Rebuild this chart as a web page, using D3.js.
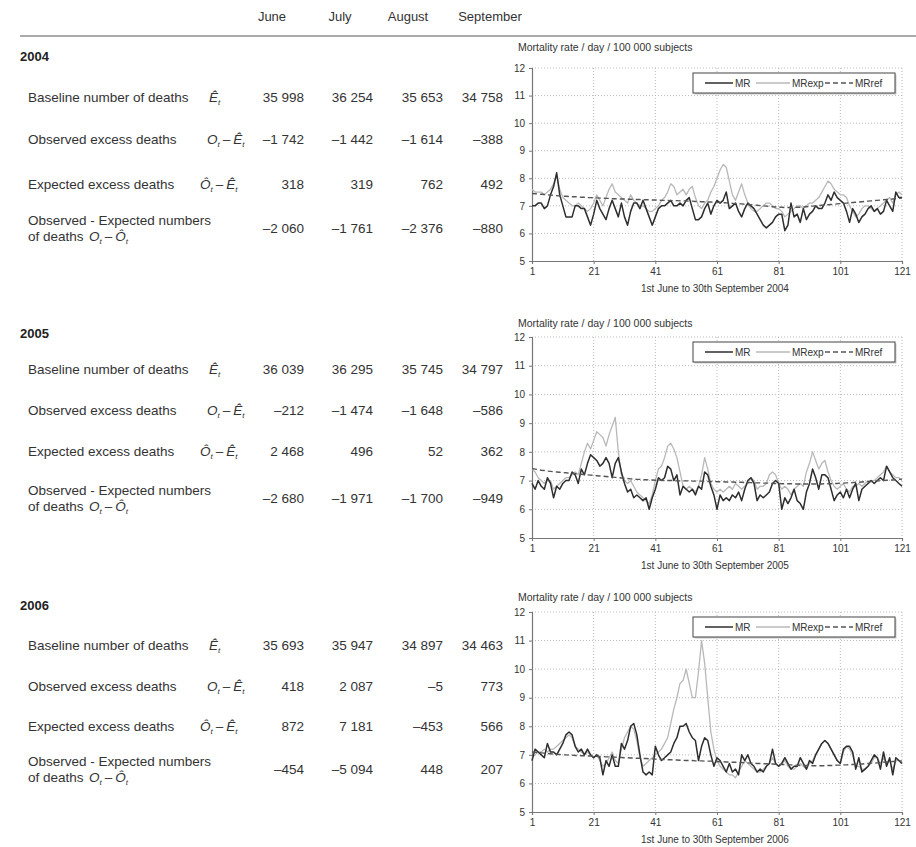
<!DOCTYPE html>
<html>
<head>
<meta charset="utf-8">
<script src="https://cdn.jsdelivr.net/npm/d3@7"></script>
<style>
  body { margin: 0; background: #fff; }
  svg { display: block; font-family: "Liberation Sans", Arial, sans-serif; }
</style>
</head>
<body>
<svg id="fig" width="916" height="847"></svg>
<script>
// table data
const months = ["June", "July", "August", "September"]
const years = ["2004", "2005", "2006"]

const baseline = [[35998, 36254, 35653, 34758], [36039, 36295, 35745, 34797], [35693, 35947, 34897, 34463]]
const observedExcess = [[-1742, -1442, -1614, -388], [-212, -1474, -1648, -586], [418, 2087, -5, 773]]
const expectedExcess = [[318, 319, 762, 492], [2468, 496, 52, 362], [872, 7181, -453, 566]]
const obsMinusExp = [[-2060, -1761, -2376, -880], [-2680, -1971, -1700, -949], [-454, -5094, 448, 207]]

const rowLabels = ["Baseline number of deaths", "Observed excess deaths", "Expected excess deaths", "Observed - Expected numbers"]
const rowSymbols = [["Ê"], ["O", "−", "Ê"], ["Ô", "−", "Ê"], ["O", "−", "Ô"]]

// daily mortality rates, day 1 = 1st June ... day 121 = 30th September
const dayTicks = [1, 21, 41, 61, 81, 101, 121]
const rateTicks = [5, 6, 7, 8, 9, 10, 11, 12]
const seriesNames = ["MR", "MRexp", "MRref"]

const mr2004 = [
  7.0, 7.0, 7.1, 7.1, 6.9, 7.0, 7.4, 7.7, 8.2, 7.4,
  7.0, 6.6, 6.6, 6.6, 7.0, 7.0, 6.9, 6.9, 6.6, 6.3,
  6.7, 7.2, 6.9, 6.7, 6.5, 6.9, 7.2, 6.9, 6.6, 7.1,
  6.6, 6.3, 6.8, 7.1, 7.1, 6.9, 7.2, 6.9, 6.6, 6.3,
  6.6, 6.9, 7.0, 7.0, 7.1, 7.2, 7.0, 7.0, 7.1, 7.0,
  7.2, 7.3, 6.9, 6.5, 6.5, 6.6, 6.9, 7.1, 6.7, 7.0,
  7.2, 7.1, 7.2, 7.5, 6.9, 7.0, 7.1, 6.8, 6.6, 6.9,
  7.1, 7.0, 6.9, 6.7, 6.5, 6.3, 6.2, 6.3, 6.4, 6.6,
  6.7, 6.7, 6.1, 6.3, 7.1, 6.6, 6.7, 6.4, 6.9, 6.5,
  6.7, 6.8, 7.0, 6.9, 6.9, 7.1, 7.4, 7.2, 7.5, 7.3,
  7.2, 7.1, 6.8, 6.4, 6.9, 6.7, 6.4, 6.6, 6.7, 6.9,
  7.0, 6.8, 6.9, 6.7, 6.8, 7.2, 7.0, 6.8, 7.5, 7.3,
  7.3]
const mrexp2004 = [
  7.6, 7.5, 7.5, 7.5, 7.4, 7.5, 7.6, 7.8, 8.1, 7.6,
  7.3, 7.2, 7.1, 7.0, 7.0, 7.1, 7.0, 6.9, 6.8, 6.9,
  7.1, 7.4, 7.2, 7.0, 7.3, 7.6, 7.8, 7.5, 7.4, 7.3,
  7.2, 7.1, 7.4, 7.2, 7.1, 7.0, 7.0, 6.9, 6.8, 6.8,
  6.9, 7.0, 7.2, 7.3, 7.5, 7.8, 7.7, 7.4, 7.5, 7.6,
  7.4, 7.6, 7.7, 7.3, 7.0, 6.9, 7.1, 7.2, 7.5, 7.7,
  8.0, 8.3, 8.5, 8.4, 7.9, 7.4, 7.2, 7.5, 7.8, 7.4,
  7.1, 6.9, 6.8, 6.8, 6.9, 7.0, 7.1, 7.1, 7.0, 6.9,
  6.9, 6.8, 6.6, 6.7, 6.8, 6.9, 7.0, 7.0, 6.9, 7.0,
  7.1, 7.1, 7.2, 7.3, 7.5, 7.7, 7.9, 7.8, 7.6, 7.5,
  7.4, 7.4, 7.3, 7.0, 6.8, 6.6, 6.7, 6.9, 7.0, 7.0,
  6.9, 6.8, 6.9, 7.0, 7.1, 7.2, 7.3, 7.1, 7.4, 7.5,
  7.4]
const mrref2004 = [
  7.45, 7.44, 7.43, 7.42, 7.41, 7.40, 7.39, 7.38, 7.37, 7.36,
  7.35, 7.35, 7.34, 7.33, 7.33, 7.32, 7.31, 7.31, 7.30, 7.30,
  7.29, 7.29, 7.28, 7.28, 7.27, 7.27, 7.26, 7.26, 7.25, 7.25,
  7.25, 7.24, 7.24, 7.23, 7.23, 7.23, 7.22, 7.22, 7.22, 7.21,
  7.21, 7.21, 7.20, 7.20, 7.20, 7.19, 7.19, 7.19, 7.18, 7.18,
  7.18, 7.17, 7.17, 7.16, 7.16, 7.15, 7.15, 7.14, 7.14, 7.13,
  7.13, 7.12, 7.11, 7.11, 7.10, 7.09, 7.08, 7.08, 7.07, 7.06,
  7.05, 7.04, 7.03, 7.02, 7.01, 7.00, 6.99, 6.98, 6.97, 6.96,
  6.95, 6.95, 6.94, 6.94, 6.94, 6.94, 6.95, 6.95, 6.96, 6.97,
  6.98, 6.99, 7.00, 7.01, 7.02, 7.03, 7.04, 7.05, 7.06, 7.07,
  7.08, 7.09, 7.10, 7.11, 7.12, 7.13, 7.14, 7.15, 7.16, 7.17,
  7.18, 7.19, 7.20, 7.21, 7.22, 7.23, 7.24, 7.25, 7.26, 7.27,
  7.28]

const mr2005 = [
  6.9, 6.7, 7.0, 6.8, 6.7, 7.1, 6.9, 6.4, 6.8, 6.7,
  6.9, 7.0, 7.0, 7.3, 7.2, 6.9, 7.4, 7.2, 7.6, 7.9,
  7.8, 7.7, 7.5, 7.6, 7.8, 7.6, 7.1, 7.6, 7.8, 7.3,
  6.9, 6.6, 6.7, 6.4, 6.5, 6.4, 6.3, 6.4, 6.0, 6.4,
  6.7, 7.1, 7.0, 7.1, 7.5, 7.4, 7.0, 7.2, 6.5, 6.8,
  6.7, 6.6, 6.7, 6.5, 6.8, 6.7, 7.3, 7.2, 6.8, 6.5,
  6.0, 6.5, 6.3, 6.4, 6.3, 6.5, 6.4, 6.6, 6.3, 6.7,
  7.0, 7.1, 6.9, 6.3, 6.5, 6.4, 6.5, 6.6, 6.9, 7.0,
  6.9, 6.0, 6.4, 6.2, 6.4, 6.7, 6.3, 6.2, 6.0, 6.6,
  6.9, 7.4, 7.1, 6.7, 7.2, 7.2, 7.1, 6.7, 6.3, 6.5,
  6.6, 6.4, 6.7, 6.4, 6.7, 6.9, 6.3, 6.7, 6.8, 6.9,
  7.0, 6.9, 7.0, 7.1, 7.0, 7.5, 7.3, 7.1, 7.0, 6.9,
  6.8]
const mrexp2005 = [
  7.4, 7.3, 7.1, 7.0, 6.9, 7.0, 7.0, 6.7, 6.8, 6.9,
  7.0, 7.1, 7.1, 7.2, 7.3, 7.2, 7.6, 8.0, 8.3, 8.1,
  8.4, 8.7, 8.6, 8.5, 8.2, 8.6, 8.9, 9.2, 8.0, 7.2,
  7.0, 6.9, 7.0, 6.8, 6.6, 6.5, 6.4, 6.3, 6.2, 6.5,
  7.0, 7.4, 7.5, 7.8, 8.2, 8.3, 8.1, 7.8, 7.3, 6.8,
  6.7, 6.8, 6.7, 6.6, 6.8, 7.2, 7.8, 7.4, 6.9, 6.7,
  6.6, 6.7, 6.6, 6.7, 6.8, 6.7, 6.9, 6.8, 6.7, 6.8,
  6.9, 7.1, 7.0, 6.7, 6.8, 6.8, 6.9, 7.2, 7.3, 7.2,
  6.9, 6.7, 6.8, 6.7, 6.5, 6.7, 6.8, 6.9, 6.8, 7.3,
  7.6, 8.0, 7.7, 7.4, 7.6, 7.7, 7.3, 7.0, 6.8, 6.7,
  6.8, 6.9, 6.7, 6.6, 6.8, 6.8, 6.9, 6.8, 6.9, 7.0,
  7.0, 7.0, 7.1, 7.2, 7.3, 7.5, 7.3, 7.2, 7.1, 7.1,
  7.0]
const mrref2005 = [
  7.42, 7.40, 7.38, 7.36, 7.35, 7.33, 7.32, 7.31, 7.30, 7.29,
  7.28, 7.27, 7.26, 7.25, 7.24, 7.23, 7.22, 7.21, 7.20, 7.19,
  7.18, 7.17, 7.16, 7.15, 7.14, 7.13, 7.12, 7.11, 7.10, 7.09,
  7.08, 7.07, 7.06, 7.05, 7.04, 7.04, 7.03, 7.03, 7.02, 7.02,
  7.01, 7.01, 7.01, 7.00, 7.00, 7.00, 7.00, 6.99, 6.99, 6.99,
  6.99, 6.99, 6.98, 6.98, 6.98, 6.98, 6.97, 6.97, 6.97, 6.97,
  6.96, 6.96, 6.96, 6.95, 6.95, 6.95, 6.94, 6.94, 6.94, 6.93,
  6.93, 6.93, 6.92, 6.92, 6.92, 6.91, 6.91, 6.91, 6.90, 6.90,
  6.90, 6.89, 6.89, 6.89, 6.89, 6.88, 6.88, 6.88, 6.88, 6.88,
  6.88, 6.88, 6.88, 6.88, 6.88, 6.89, 6.89, 6.89, 6.90, 6.90,
  6.91, 6.91, 6.92, 6.92, 6.93, 6.94, 6.94, 6.95, 6.96, 6.96,
  6.97, 6.98, 6.99, 6.99, 7.00, 7.01, 7.02, 7.02, 7.03, 7.04,
  7.05]

const mr2006 = [
  6.8, 7.2, 7.1, 7.0, 6.9, 7.4, 7.1, 7.1, 7.0, 7.2,
  7.4, 7.7, 7.8, 7.7, 7.3, 7.1, 7.2, 7.0, 7.2, 7.0,
  6.9, 7.0, 6.9, 6.3, 6.8, 6.6, 7.0, 6.6, 6.6, 7.4,
  7.2, 7.5, 8.0, 8.1, 7.7, 7.0, 6.4, 6.3, 6.4, 6.3,
  7.3, 7.0, 6.8, 6.9, 7.0, 7.1, 7.4, 7.6, 8.0, 8.0,
  8.1, 7.8, 7.6, 7.5, 6.8, 7.3, 7.6, 7.5, 7.0, 6.6,
  6.9, 6.8, 6.6, 6.4, 6.7, 6.4, 6.5, 6.3, 7.0, 6.8,
  7.0, 6.7, 6.6, 6.4, 6.5, 6.4, 6.6, 6.7, 7.2, 6.7,
  6.6, 6.7, 6.9, 6.7, 6.5, 6.6, 6.6, 6.9, 6.7, 6.5,
  6.8, 6.7, 7.0, 7.2, 7.4, 7.5, 7.4, 7.2, 7.0, 6.8,
  6.7, 7.2, 7.3, 7.3, 7.1, 6.5, 6.9, 6.4, 6.5, 6.6,
  6.8, 7.0, 6.9, 6.5, 7.1, 6.6, 6.9, 6.3, 6.9, 6.8,
  6.7]
const mrexp2006 = [
  6.9, 7.0, 7.1, 7.1, 7.2, 7.1, 7.2, 7.2, 7.3, 7.4,
  7.5, 7.6, 7.7, 7.6, 7.3, 7.2, 7.1, 7.0, 7.1, 7.0,
  6.9, 7.0, 6.8, 6.6, 6.7, 6.9, 7.1, 6.8, 6.7, 7.2,
  7.6, 7.8, 8.0, 7.9, 7.5, 6.9, 6.6, 6.7, 6.8, 6.9,
  7.0, 7.1, 7.2, 7.4, 7.6, 8.1, 8.6, 9.0, 9.5, 9.6,
  10.0, 9.5, 9.0, 9.0, 9.9, 11.0, 10.2, 9.0, 7.8, 7.2,
  6.8, 6.6, 6.5, 6.4, 6.3, 6.3, 6.2, 6.4, 6.6, 6.8,
  6.7, 6.6, 6.5, 6.4, 6.4, 6.5, 6.6, 6.7, 6.9, 6.7,
  6.6, 6.7, 6.8, 6.6, 6.5, 6.5, 6.6, 6.7, 6.6, 6.5,
  6.7, 6.8, 7.0, 7.2, 7.4, 7.5, 7.4, 7.2, 7.0, 6.8,
  6.7, 7.1, 7.3, 7.2, 7.0, 6.6, 6.6, 6.5, 6.5, 6.6,
  6.7, 6.9, 6.9, 6.7, 6.9, 6.7, 6.8, 6.5, 6.8, 6.8,
  6.7]
const mrref2006 = [
  7.10, 7.09, 7.08, 7.07, 7.06, 7.05, 7.04, 7.03, 7.02, 7.01,
  7.00, 7.00, 6.99, 6.99, 6.98, 6.98, 6.97, 6.97, 6.96, 6.96,
  6.95, 6.95, 6.94, 6.94, 6.93, 6.93, 6.92, 6.92, 6.91, 6.91,
  6.90, 6.90, 6.89, 6.89, 6.88, 6.88, 6.87, 6.87, 6.86, 6.86,
  6.85, 6.85, 6.84, 6.84, 6.83, 6.83, 6.82, 6.82, 6.81, 6.81,
  6.80, 6.80, 6.80, 6.79, 6.79, 6.79, 6.78, 6.78, 6.78, 6.77,
  6.77, 6.76, 6.76, 6.75, 6.75, 6.74, 6.74, 6.73, 6.73, 6.72,
  6.72, 6.71, 6.71, 6.70, 6.70, 6.69, 6.69, 6.68, 6.68, 6.67,
  6.67, 6.66, 6.66, 6.65, 6.65, 6.64, 6.64, 6.63, 6.63, 6.63,
  6.62, 6.62, 6.62, 6.62, 6.62, 6.62, 6.63, 6.63, 6.63, 6.64,
  6.64, 6.65, 6.65, 6.66, 6.66, 6.67, 6.68, 6.68, 6.69, 6.70,
  6.71, 6.71, 6.72, 6.73, 6.74, 6.75, 6.76, 6.77, 6.77, 6.78,
  6.79]

const yearSeries = [
  [mr2004, mrexp2004, mrref2004],
  [mr2005, mrexp2005, mrref2005],
  [mr2006, mrexp2006, mrref2006]
]

// ---- layout
const svg = d3.select("#fig")
const ink = "#333"
const tableFont = 13.5

const loc = d3.formatLocale({ decimal: ".", thousands: " ", grouping: [3], currency: ["", ""], minus: "\u2013" })
const fmt = loc.format(",d")

const colRight = [304, 373, 443, 503]
const headCenter = [272, 340, 408, 490]
const blockY = [61, 338, 610]
const rowY = [[102, 144, 189, 225], [374, 415, 456, 495], [650, 691, 731, 766]]
const symX = [206, 204, 197, 86]

// month header + rule
svg.selectAll(".month")
  .data(months)
  .enter()
  .append("text")
  .attr("class", "month")
  .attr("x", (d, i) => headCenter[i])
  .attr("y", 21)
  .attr("text-anchor", "middle")
  .attr("font-size", 13)
  .attr("fill", ink)
  .text(d => d)

svg.append("line").attr("x1", 20).attr("x2", 916).attr("y1", 36).attr("y2", 36)
  .attr("stroke", "#aaa").attr("stroke-width", 2)

function drawSym(x, y, tokens) {
  const t = svg.append("text").attr("x", x).attr("y", y).attr("font-size", tableFont).attr("fill", ink)
  let sub = false
  tokens.forEach(tok => {
    if (tok === "−") {
      t.append("tspan").attr("dy", sub ? -3 : 0).attr("dx", 3).text("\u2013")
      sub = false
    } else {
      t.append("tspan").attr("dy", sub ? -3 : 0).attr("dx", sub ? 0 : 3).attr("font-style", "italic").text(tok)
      t.append("tspan").attr("dy", 3).attr("font-size", 8).attr("font-style", "italic").text("t")
      sub = true
    }
  })
}

const tableRows = [baseline, observedExcess, expectedExcess, obsMinusExp]

years.forEach((yr, b) => {
  svg.append("text")
    .attr("x", 20).attr("y", blockY[b])
    .attr("font-size", 13).attr("font-weight", "bold").attr("fill", "#222")
    .text(yr)

  rowLabels.forEach((lab, r) => {
    const y = rowY[b][r]
    svg.append("text").attr("x", 28).attr("y", y)
      .attr("font-size", tableFont).attr("fill", ink).text(lab)
    if (r === 3) {
      svg.append("text").attr("x", 28).attr("y", y + 16)
        .attr("font-size", tableFont).attr("fill", ink).text("of deaths")
      drawSym(symX[r], y + 16, rowSymbols[r])
    } else {
      drawSym(symX[r], y, rowSymbols[r])
    }
    svg.selectAll(null)
      .data(tableRows[r][b])
      .enter()
      .append("text")
      .attr("x", (d, i) => colRight[i])
      .attr("y", r === 3 ? y + 8 : y)
      .attr("text-anchor", "end")
      .attr("font-size", tableFont)
      .attr("fill", ink)
      .text(d => fmt(d))
  })
})

// ---- charts
const chartLeft = 532, chartWidth = 370
const chartTop = [68, 337, 612]
const chartHeight = [193, 201, 200]
const titleY = [51, 327, 601]
const lineStyle = [
  { stroke: "#2e2e2e", width: 1.5, dash: null },
  { stroke: "#b8b8b8", width: 1.3, dash: null },
  { stroke: "#555", width: 1.4, dash: "5,3" }
]
const drawOrder = [1, 0, 2]

years.forEach((yr, c) => {
  const h = chartHeight[c]
  const g = svg.append("g").attr("transform", `translate(${chartLeft},${chartTop[c]})`)

  const x = d3.scaleLinear().domain([1, 121]).range([0, chartWidth])
  const y = d3.scaleLinear().domain([5, 12]).range([h, 0])

  // dotted grid
  g.selectAll(".hg").data(rateTicks.slice(1)).enter().append("line")
    .attr("x1", 0).attr("x2", chartWidth)
    .attr("y1", d => y(d)).attr("y2", d => y(d))
    .attr("stroke", "#bbb").attr("stroke-dasharray", "1,2")
  g.selectAll(".vg").data(dayTicks.slice(1)).enter().append("line")
    .attr("x1", d => x(d)).attr("x2", d => x(d))
    .attr("y1", 0).attr("y2", h)
    .attr("stroke", "#bbb").attr("stroke-dasharray", "1,2")

  // axes
  const ya = g.append("g")
    .call(d3.axisLeft(y).tickValues(rateTicks).tickSize(3).tickFormat(d3.format("d")))
  const xa = g.append("g").attr("transform", `translate(0,${h})`)
    .call(d3.axisBottom(x).tickValues(dayTicks).tickSize(3).tickFormat(d3.format("d")))
  ;[ya, xa].forEach(a => {
    a.select(".domain").attr("stroke", "#777").attr("stroke-width", 1.2)
    a.selectAll(".tick line").attr("stroke", "#777")
    a.selectAll(".tick text").attr("fill", ink).attr("font-size", 10)
      .attr("font-family", "Liberation Sans, Arial, sans-serif")
  })
  ya.selectAll(".tick text").attr("x", -7)
  xa.selectAll(".tick text").attr("y", 7)

  // lines
  drawOrder.forEach(s => {
    const vals = yearSeries[c][s]
    const line = d3.line().x((d, i) => x(i + 1)).y(d => y(d))
    g.append("path")
      .datum(vals)
      .attr("d", line)
      .attr("fill", "none")
      .attr("stroke", lineStyle[s].stroke)
      .attr("stroke-width", lineStyle[s].width)
      .attr("stroke-dasharray", lineStyle[s].dash)
      .attr("stroke-linejoin", "round")
  })

  // titles
  svg.append("text").attr("x", 518).attr("y", titleY[c])
    .attr("font-size", 10.5).attr("fill", ink)
    .text("Mortality rate / day / 100 000 subjects")
  g.append("text").attr("x", chartWidth / 2 - 2).attr("y", h + 31)
    .attr("text-anchor", "middle").attr("font-size", 10).attr("fill", ink)
    .text("1st June to 30th September " + yr)

  // legend
  const lg = g.append("g").attr("transform", "translate(161,5)")
  lg.append("rect").attr("x", 1.5).attr("y", 1.5).attr("width", 202).attr("height", 20).attr("fill", "#ccc")
  lg.append("rect").attr("width", 202).attr("height", 20).attr("fill", "#fff")
    .attr("stroke", "#444").attr("stroke-width", 1)
  const legX = [12, 63, 132]
  const legLen = [28, 34, 28]
  seriesNames.forEach((nm, s) => {
    lg.append("line").attr("x1", legX[s]).attr("x2", legX[s] + legLen[s]).attr("y1", 10).attr("y2", 10)
      .attr("stroke", lineStyle[s].stroke).attr("stroke-width", lineStyle[s].width)
      .attr("stroke-dasharray", lineStyle[s].dash)
    lg.append("text").attr("x", legX[s] + legLen[s] + 2).attr("y", 13.5)
      .attr("font-size", 10).attr("fill", ink).text(nm)
  })
})
</script>
</body>
</html>
